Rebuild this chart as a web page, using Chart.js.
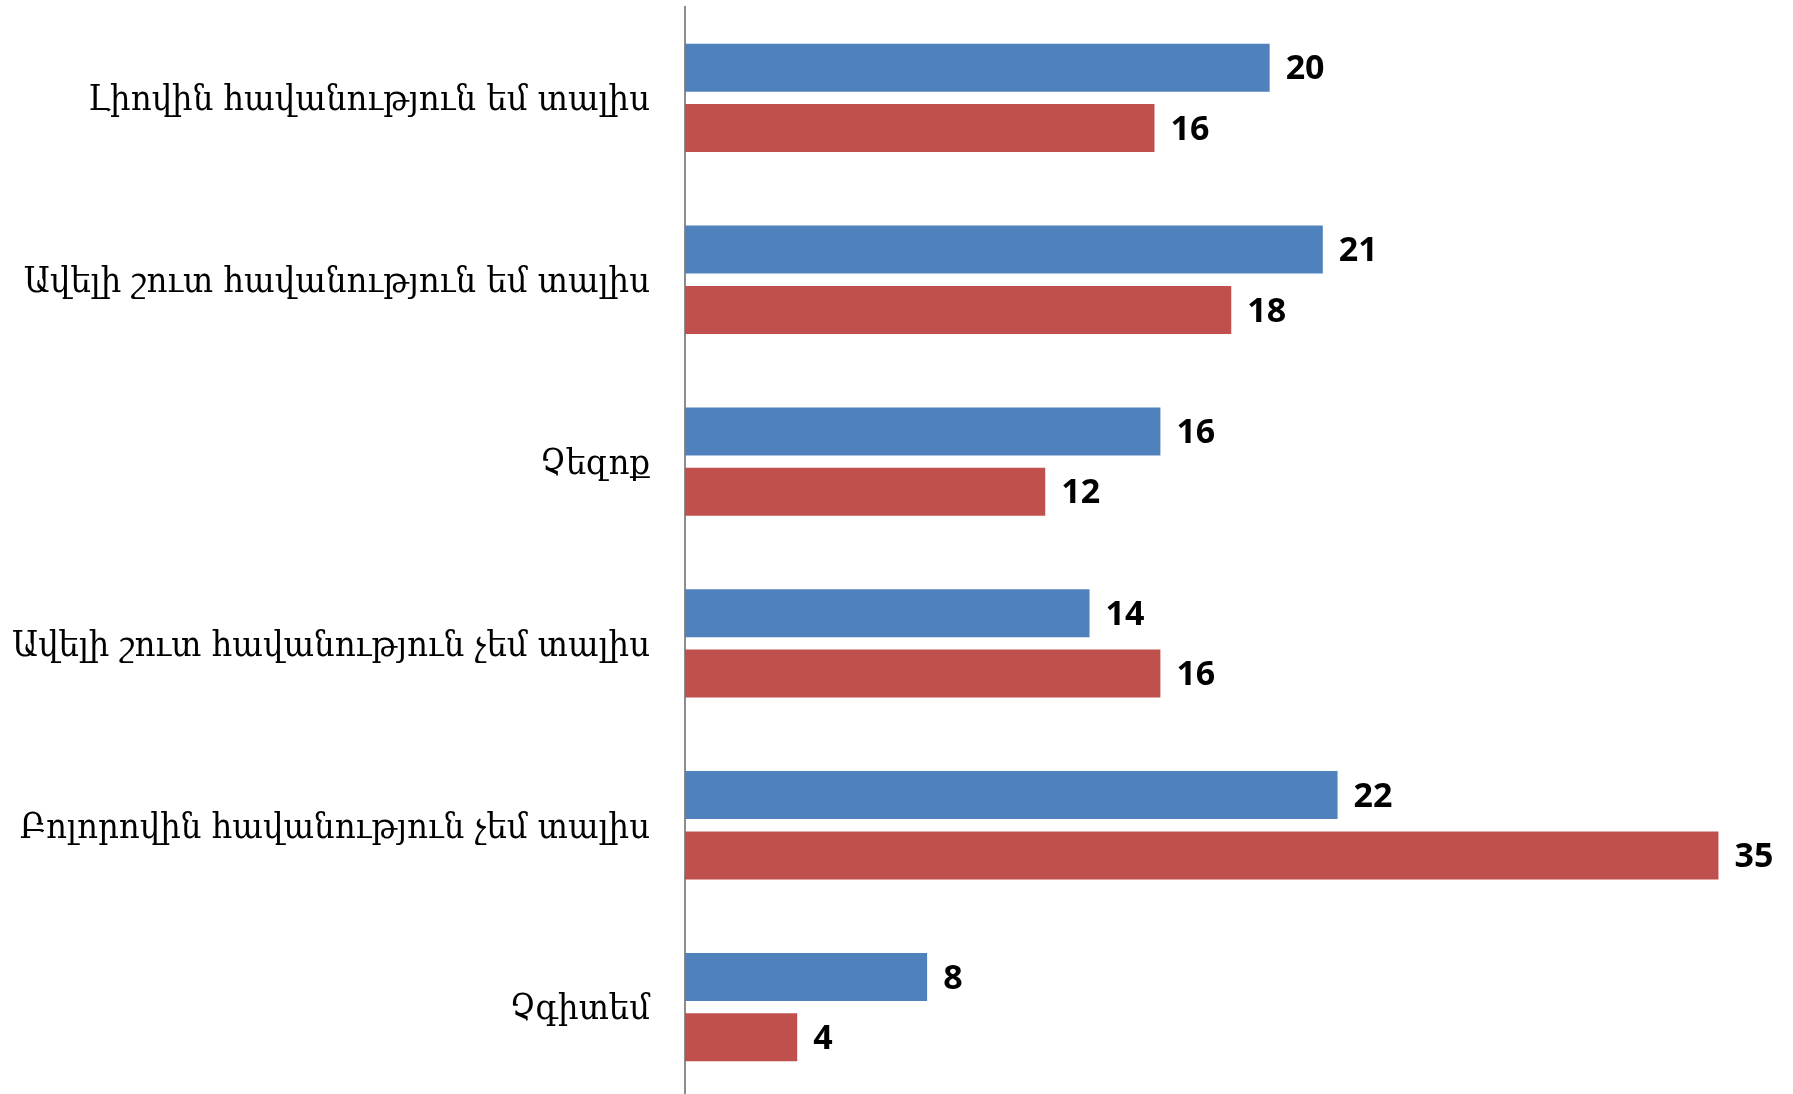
<!DOCTYPE html>
<html>
<head>
<meta charset="utf-8">
<script src="https://cdn.jsdelivr.net/npm/chart.js"></script>
<style>
    html, body { margin: 0; padding: 0; background: #ffffff; overflow: hidden; }
    #wrap { width: 1793px; height: 1098px; position: relative; }
</style>
</head>
<body>
<div id="wrap"><canvas id="barChart"></canvas></div>
<script>
    // Categories (top to bottom)
    const categories = [
        'Լիովին հավանություն եմ տալիս',
        'Ավելի շուտ հավանություն եմ տալիս',
        'Չեզոք',
        'Ավելի շուտ հավանություն չեմ տալիս',
        'Բոլորովին հավանություն չեմ տալիս',
        'Չգիտեմ'
    ];
    // Series values (bar lengths)
    const blueValues = [19.8, 21.6, 16.1, 13.7, 22.1, 8.2];
    const redValues = [15.9, 18.5, 12.2, 16.1, 35, 3.8];
    // Printed labels next to the bars
    const blueLabels = [20, 21, 16, 14, 22, 8];
    const redLabels = [16, 18, 12, 16, 35, 4];

    // Value labels at the end of each bar
    const valueLabels = {
        id: 'valueLabels',
        afterDatasetsDraw(chart) {
            const ctx = chart.ctx;
            ctx.save();
            ctx.font = 'bold 34px "Open Sans", sans-serif';
            ctx.fillStyle = '#000000';
            ctx.textAlign = 'left';
            ctx.textBaseline = 'middle';
            chart.data.datasets.forEach((ds, i) => {
                chart.getDatasetMeta(i).data.forEach((bar, j) => {
                    ctx.fillText(String(ds.printed[j]), bar.x + 16, bar.y + 2);
                });
            });
            ctx.restore();
        }
    };

    const ctx = document.getElementById('barChart');
    new Chart(ctx, {
        type: 'bar',
        data: {
            labels: categories,
            datasets: [
                {
                    label: 'Series 1',
                    data: blueValues,
                    printed: blueLabels,
                    backgroundColor: '#4F81BD',
                    categoryPercentage: 0.663,
                    barPercentage: 0.796
                },
                {
                    label: 'Series 2',
                    data: redValues,
                    printed: redLabels,
                    backgroundColor: '#C0504D',
                    categoryPercentage: 0.663,
                    barPercentage: 0.796
                }
            ]
        },
        options: {
            indexAxis: 'y',
            responsive: true,
            maintainAspectRatio: false,
            animation: false,
            layout: { padding: { top: 7, right: 45, bottom: 0, left: 0 } },
            plugins: {
                legend: { display: false },
                tooltip: { enabled: false }
            },
            scales: {
                x: {
                    display: false,
                    min: 0,
                    max: 36
                },
                y: {
                    grid: { display: false, drawTicks: false },
                    border: { display: true, color: '#8C8C8C', width: 2 },
                    ticks: {
                        color: '#000000',
                        padding: 35,
                        labelOffset: 3,
                        font: { family: '"DejaVu Serif Condensed", "DejaVu Serif", serif', size: 36 }
                    },
                    afterFit(scale) {
                        // keep label column fixed, no extra room above/below
                        scale.width = 685;
                        scale.paddingTop = 0;
                        scale.paddingBottom = 0;
                    }
                }
            }
        },
        plugins: [valueLabels]
    });
</script>
</body>
</html>
